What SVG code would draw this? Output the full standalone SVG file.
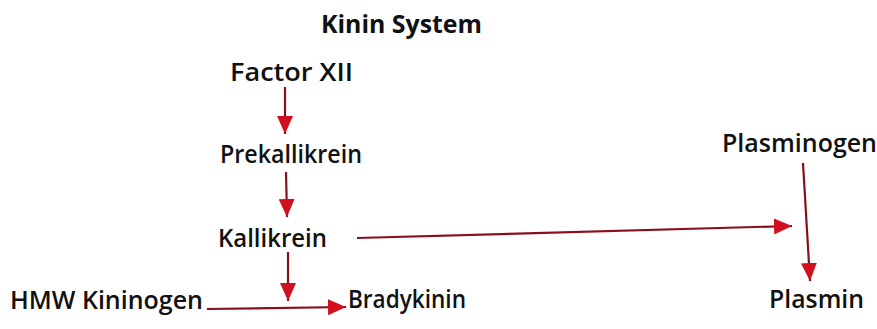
<svg xmlns="http://www.w3.org/2000/svg" width="877" height="329" viewBox="0 0 877 329">
<style>
text{font-family:"Open Sans","Noto Sans",sans-serif;font-size:25px;font-weight:600;fill:#111;}
.t{font-weight:700;}
.c{stroke:#8a0f1c;stroke-width:2.2;fill:none;}
</style>
<defs>
<marker id="ah" viewBox="0 0 18 16" refX="18" refY="8" markerWidth="18" markerHeight="16" markerUnits="userSpaceOnUse" orient="auto">
<path d="M0,0 L18,8 L0,16 Z" fill="#d0101e"/>
</marker>
</defs>
<rect width="877" height="329" fill="#fff"/>
<g id="title"><text class="t" x="321" y="33" textLength="161" lengthAdjust="spacingAndGlyphs">Kinin System</text></g>
<g id="factorxii"><text x="230" y="81" textLength="123" lengthAdjust="spacingAndGlyphs">Factor XII</text></g>
<g id="prekallikrein"><text x="220" y="163" textLength="142" lengthAdjust="spacingAndGlyphs">Prekallikrein</text></g>
<g id="kallikrein"><text x="218" y="247" textLength="109" lengthAdjust="spacingAndGlyphs">Kallikrein</text></g>
<g id="hmw"><text x="10" y="309" textLength="193" lengthAdjust="spacingAndGlyphs">HMW Kininogen</text></g>
<g id="bradykinin"><text x="348" y="308" textLength="118" lengthAdjust="spacingAndGlyphs">Bradykinin</text></g>
<g id="plasminogen"><text x="722" y="152" textLength="155" lengthAdjust="spacingAndGlyphs">Plasminogen</text></g>
<g id="plasmin"><text x="769" y="308" textLength="95" lengthAdjust="spacingAndGlyphs">Plasmin</text></g>
<g id="connectors">
<line class="c" x1="285" y1="87" x2="285" y2="134" marker-end="url(#ah)"/>
<line class="c" x1="286" y1="172" x2="287" y2="217" marker-end="url(#ah)"/>
<line class="c" x1="288" y1="252" x2="288" y2="301" marker-end="url(#ah)"/>
<line class="c" x1="357" y1="238" x2="792" y2="226" marker-end="url(#ah)"/>
<line class="c" x1="207" y1="309" x2="346" y2="307" marker-end="url(#ah)"/>
<line class="c" x1="803" y1="163" x2="810" y2="281" marker-end="url(#ah)"/>
</g>
</svg>
